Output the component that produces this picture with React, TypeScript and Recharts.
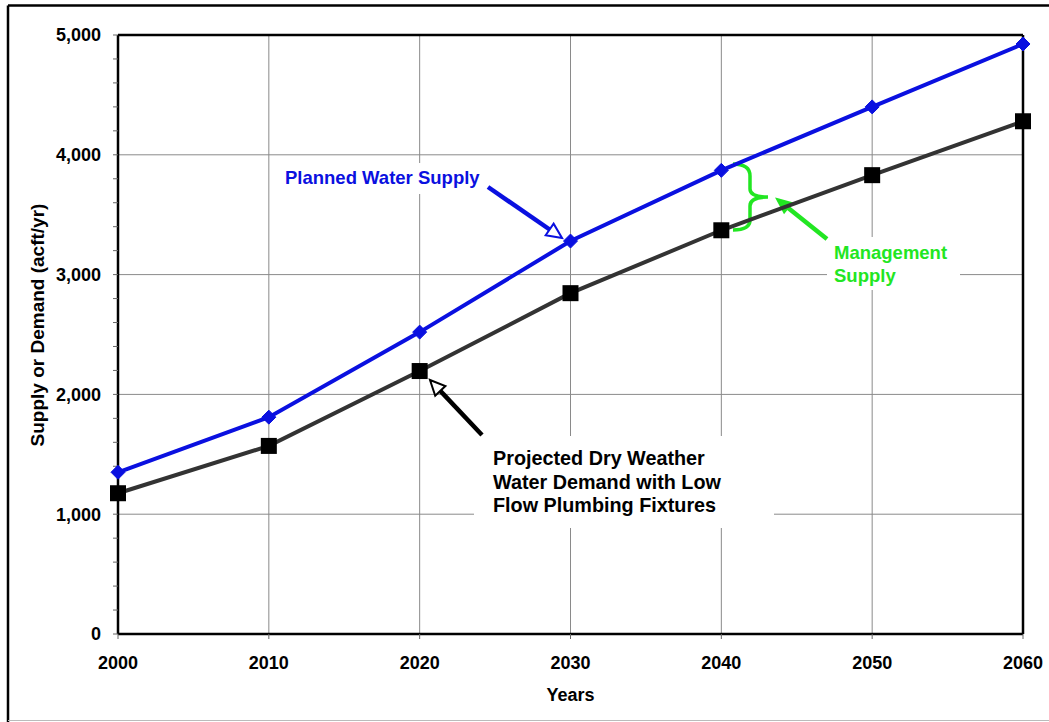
import React from 'react';
import { LineChart, Line, XAxis, YAxis, CartesianGrid, Customized } from 'recharts';

const years = [2000, 2010, 2020, 2030, 2040, 2050, 2060];
const plannedSupply = [1350, 1810, 2520, 3280, 3870, 4400, 4925];
const projectedDemand = [1175, 1570, 2195, 2845, 3370, 3830, 4280];
const yTicks = [0, 200, 400, 600, 800, 1000, 1200, 1400, 1600, 1800, 2000, 2200, 2400, 2600, 2800, 3000, 3200, 3400, 3600, 3800, 4000, 4200, 4400, 4600, 4800, 5000];
const gridY = [1000, 2000, 3000, 4000];
const gridX = [2010, 2020, 2030, 2040, 2050];

const data = years.map((y, i) => ({ year: y, supply: plannedSupply[i], demand: projectedDemand[i] }));

const FONT = '"Liberation Sans", Arial, Helvetica, sans-serif';
const BLUE = '#0a10e0';
const GREEN = '#22e622';
const DARK = '#333333';

function Diamond(props: any) {
  const { cx, cy, index } = props;
  if (cx == null || cy == null) return <g key={`d${index}`} />;
  const r = 7;
  return (
    <polygon
      key={`d${index}`}
      points={`${cx},${cy - r} ${cx + r},${cy} ${cx},${cy + r} ${cx - r},${cy}`}
      fill={BLUE}
      stroke={BLUE}
      strokeWidth={1}
    />
  );
}

function Square(props: any) {
  const { cx, cy, index } = props;
  if (cx == null || cy == null) return <g key={`s${index}`} />;
  const h = 8;
  return <rect key={`s${index}`} x={cx - h} y={cy - h} width={2 * h} height={2 * h} fill="#000" />;
}

function Arrow({ x1, y1, x2, y2, color, width = 4, headLen = 15, headW = 7, open = true }: any) {
  const dx = x2 - x1;
  const dy = y2 - y1;
  const len = Math.sqrt(dx * dx + dy * dy);
  const ux = dx / len;
  const uy = dy / len;
  const bx = x2 - ux * headLen;
  const by = y2 - uy * headLen;
  const px = -uy;
  const py = ux;
  const pts = `${x2},${y2} ${bx + px * headW},${by + py * headW} ${bx - px * headW},${by - py * headW}`;
  return (
    <g>
      <line x1={x1} y1={y1} x2={bx} y2={by} stroke={color} strokeWidth={width} />
      <polygon points={pts} fill={open ? '#fff' : color} stroke={color} strokeWidth={2} strokeLinejoin="miter" />
    </g>
  );
}

function Boxes() {
  return (
    <g>
      <rect x={276} y={163} width={214} height={31} fill="#fff" />
      <rect x={474} y={436} width={300} height={92} fill="#fff" />
      <rect x={827} y={237} width={133} height={53} fill="#fff" />
    </g>
  );
}

function Annotations() {
  const t = { fontFamily: FONT, fontWeight: 700 } as any;
  return (
    <g>
      {/* outer frame */}
      <line x1={8} y1={5.5} x2={1049} y2={5.5} stroke="#000" strokeWidth={2.5} />
      <line x1={8} y1={5.5} x2={8} y2={722} stroke="#000" strokeWidth={2.5} />
      <line x1={8} y1={720.5} x2={1049} y2={720.5} stroke="#bbb" strokeWidth={1} />

      <text x={285} y={184} fill={BLUE} fontSize={18.5} {...t}>Planned Water Supply</text>
      <Arrow x1={488} y1={187} x2={562} y2={238} color={BLUE} width={4.5} />

      <text x={834} y={259} fill={GREEN} fontSize={18.5} {...t}>Management</text>
      <text x={834} y={282} fill={GREEN} fontSize={18.5} {...t}>Supply</text>
      <path
        d="M733,164 Q750,164 750,176 L750,189 Q750,197 768,197 Q750,197 750,206 L750,220 Q750,230 733,230"
        fill="none"
        stroke={GREEN}
        strokeWidth={3.5}
      />
      <Arrow x1={827} y1={239} x2={777} y2={199} color={GREEN} width={4.5} headLen={14} headW={6} open={false} />

      <text x={493} y={465} fill="#000" fontSize={19.8} {...t}>Projected Dry Weather</text>
      <text x={493} y={489} fill="#000" fontSize={19.8} {...t}>Water Demand with Low</text>
      <text x={493} y={512} fill="#000" fontSize={19.8} {...t}>Flow Plumbing Fixtures</text>
      <Arrow x1={482} y1={435} x2={430} y2={380} color="#000" width={4.5} />

      <text x={570.5} y={701} textAnchor="middle" fill="#000" fontSize={18} {...t}>Years</text>
      <text
        x={44}
        y={325}
        transform="rotate(-90 44 325)"
        textAnchor="middle"
        fill="#000"
        fontSize={19}
        {...t}
      >
        Supply or Demand (acft/yr)
      </text>
    </g>
  );
}

const fmt = (v: number) => (v % 1000 === 0 ? v.toLocaleString('en-US') : '');

export default function App() {
  return (
    <div style={{ position: 'absolute', left: 0, top: 0, width: 1049, height: 722, background: '#fff' }}>
      <LineChart width={1049} height={722} data={data} margin={{ top: 35, right: 26, bottom: 38, left: 58 }}>
        <CartesianGrid
          horizontal
          vertical
          horizontalValues={gridY}
          verticalValues={gridX}
          stroke="#8a8a8a"
          strokeWidth={1}
        />
        <CartesianGrid
          horizontal
          vertical
          horizontalValues={[5000]}
          verticalValues={[2060]}
          stroke="#000"
          strokeWidth={2.5}
        />
        <Customized component={<Boxes />} />
        <XAxis
          dataKey="year"
          type="number"
          domain={[2000, 2060]}
          ticks={years}
          interval={0}
          height={50}
          tickSize={5}
          tickMargin={17}
          axisLine={{ stroke: '#000', strokeWidth: 2.5 }}
          tickLine={{ stroke: '#666', strokeWidth: 1 }}
          tick={{ fill: '#000', fontSize: 18, fontWeight: 700, fontFamily: FONT }}
        />
        <YAxis
          type="number"
          domain={[0, 5000]}
          ticks={yTicks}
          interval={0}
          width={60}
          tickSize={5}
          tickMargin={12}
          tickFormatter={fmt}
          axisLine={{ stroke: '#000', strokeWidth: 2.5 }}
          tickLine={{ stroke: '#666', strokeWidth: 1 }}
          tick={{ fill: '#000', fontSize: 18, fontWeight: 700, fontFamily: FONT }}
        />
        <Line
          type="linear"
          dataKey="demand"
          stroke={DARK}
          strokeWidth={4}
          dot={(p: any) => <Square {...p} key={`sq${p.index}`} />}
          activeDot={false}
          isAnimationActive={false}
        />
        <Line
          type="linear"
          dataKey="supply"
          stroke={BLUE}
          strokeWidth={4}
          dot={(p: any) => <Diamond {...p} key={`dm${p.index}`} />}
          activeDot={false}
          isAnimationActive={false}
        />
        <Customized component={<Annotations />} />
      </LineChart>
    </div>
  );
}
